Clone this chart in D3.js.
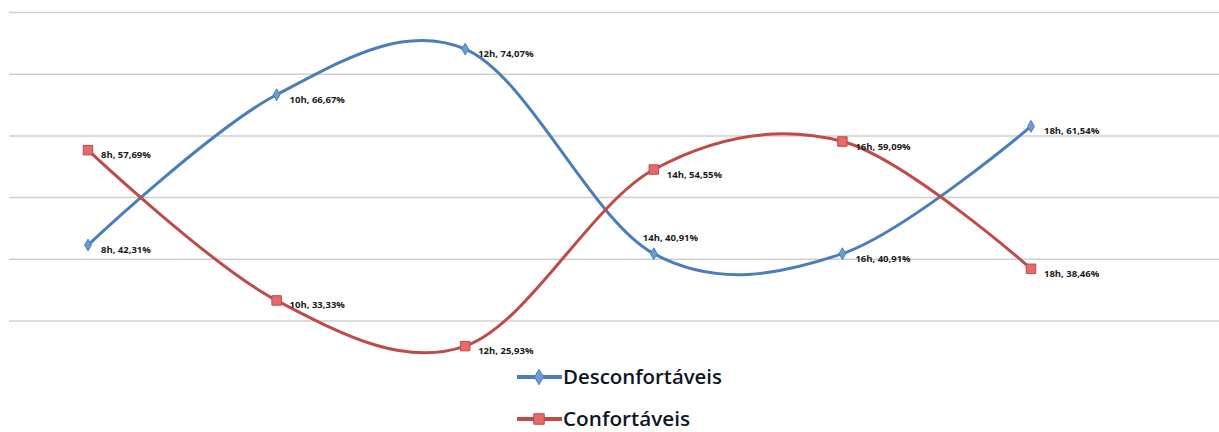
<!DOCTYPE html>
<html>
<head>
<meta charset="utf-8">
<script src="https://cdn.jsdelivr.net/npm/d3@7"></script>
<style>
  body { margin: 0; background: #fff; }
  svg { display: block; }
</style>
</head>
<body>
<div id="chart"></div>
<script>
// data
var hours = ["8h", "10h", "12h", "14h", "16h", "18h"];
var desconfortaveis = [42.31, 66.67, 74.07, 40.91, 40.91, 61.54];
var confortaveis = [57.69, 33.33, 25.93, 54.55, 59.09, 38.46];
var gridTicks = [30, 40, 50, 60, 70, 80];

var svgWidth = 1219;
var svgHeight = 432;

var svg = d3.select("#chart")
  .append("svg")
  .attr("width", svgWidth)
  .attr("height", svgHeight);

var xScale = d3.scalePoint()
  .domain(hours)
  .range([88, 1031]);

var yScale = d3.scaleLinear()
  .domain([30, 80])
  .range([321, 12.5]);

// gridlines
svg.append("g")
  .selectAll("line")
  .data(gridTicks)
  .enter()
  .append("line")
  .attr("x1", 9)
  .attr("x2", svgWidth)
  .attr("y1", d => yScale(d))
  .attr("y2", d => yScale(d))
  .attr("stroke", "#cfcfcf")
  .attr("stroke-width", 1.5);

var series = [
  { name: "Desconfortáveis", values: desconfortaveis, color: "#4a7ebb", fill: "#6f9bd3", marker: "diamond" },
  { name: "Confortáveis", values: confortaveis, color: "#be4b48", fill: "#e56b69", marker: "square" }
];

var line = d3.line()
  .x((d, i) => xScale(hours[i]))
  .y(d => yScale(d))
  .curve(d3.curveCardinal.tension(0));

function markerPath(type) {
  return type === "diamond"
    ? d3.symbol().type(d3.symbolDiamond).size(40)()
    : d3.symbol().type(d3.symbolSquare).size(90)();
}

series.forEach(function(s) {
  svg.append("path")
    .attr("d", line(s.values))
    .attr("fill", "none")
    .attr("stroke", s.color)
    .attr("stroke-width", 3);

  svg.append("g")
    .selectAll("path")
    .data(s.values)
    .enter()
    .append("path")
    .attr("d", markerPath(s.marker))
    .attr("transform", (d, i) => `translate(${xScale(hours[i])},${yScale(d)})`)
    .attr("fill", s.fill)
    .attr("stroke", s.color)
    .attr("stroke-width", 1);
});

// data labels
function fmt(v) { return v.toFixed(2).replace(".", ",") + "%"; }

series.forEach(function(s) {
  svg.append("g")
    .selectAll("text")
    .data(s.values)
    .enter()
    .append("text")
    .attr("x", (d, i) => {
      var x = xScale(hours[i]);
      if (s.marker === "diamond" && hours[i] === "14h") return x - 11;
      return x + 13;
    })
    .attr("y", (d, i) => {
      var y = yScale(d);
      if (s.marker === "diamond" && hours[i] === "14h") return y - 13;
      return y + 8;
    })
    .attr("font-family", "'Open Sans', sans-serif")
    .attr("font-weight", "bold")
    .attr("font-size", "9.5px")
    .attr("fill", "#1a1a1a")
    .text((d, i) => hours[i] + ", " + fmt(d));
});

// legend
var legend = svg.append("g");
series.forEach(function(s, i) {
  var ly = 377 + i * 42;
  legend.append("line")
    .attr("x1", 517)
    .attr("x2", 562)
    .attr("y1", ly)
    .attr("y2", ly)
    .attr("stroke", s.color)
    .attr("stroke-width", 4);
  legend.append("path")
    .attr("d", s.marker === "diamond"
      ? d3.symbol().type(d3.symbolDiamond).size(70)()
      : d3.symbol().type(d3.symbolSquare).size(110)())
    .attr("transform", `translate(539,${ly})`)
    .attr("fill", s.fill)
    .attr("stroke", s.color);
  legend.append("text")
    .attr("x", 563)
    .attr("y", ly + 7)
    .attr("font-family", "'Open Sans', sans-serif")
    .attr("font-weight", "600")
    .attr("font-size", "20px")
    .attr("fill", "#0e1626")
    .attr("textLength", s.marker === "diamond" ? 159 : 127)
    .attr("lengthAdjust", "spacingAndGlyphs")
    .text(s.name);
});
</script>
</body>
</html>
